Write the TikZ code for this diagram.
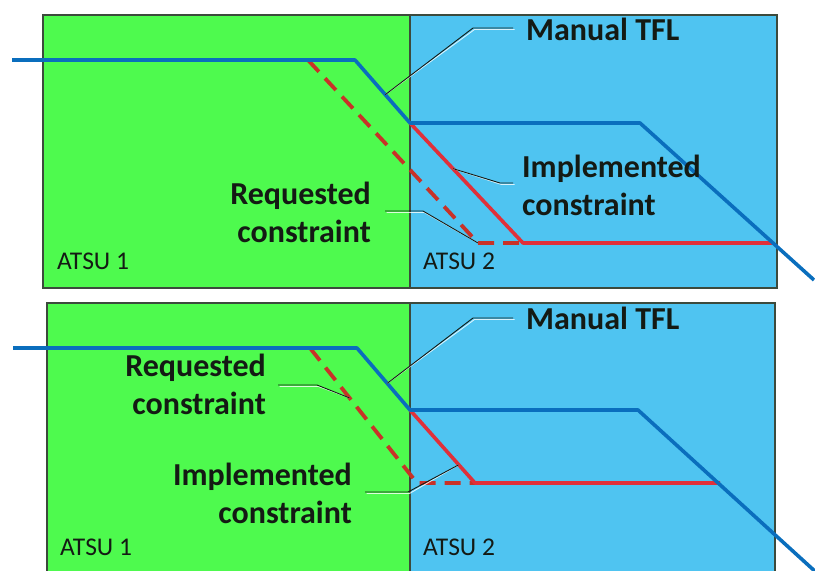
\documentclass[tikz,border=0pt]{standalone}
\usepackage{fontspec}
\setmainfont{Carlito}
\usetikzlibrary{calc}
\definecolor{zoneA}{HTML}{4EFA4E}
\definecolor{zoneB}{HTML}{4FC4F1}
\definecolor{tflblue}{HTML}{0A6EBD}
\definecolor{cred}{HTML}{E0303A}
\definecolor{cdred}{HTML}{C83228}
\definecolor{edge}{HTML}{3C4A3C}
\definecolor{ink}{HTML}{141A14}
\tikzset{
  x=1pt, y=-1pt,
  zonebox/.style={draw=edge, line width=1.3pt},
  tfl/.style={draw=tflblue, line width=3.6pt, line join=round},
  implemented/.style={draw=cred, line width=3.6pt, line join=round},
  requested/.style={draw=cdred, line width=3.8pt, dash pattern=on 16pt off 9pt},
  leader/.style={draw=ink, line width=0.9pt},
  leadershade/.style={draw=white, line width=0.9pt, opacity=0.8},
  biglabel/.style={font=\fontsize{32}{38}\selectfont\bfseries, text=ink, inner sep=0pt},
  zonelabel/.style={font=\fontsize{25.5}{28}\selectfont, text=ink, inner sep=0pt, anchor=west},
}
\begin{document}
\begin{tikzpicture}
\useasboundingbox (0,0) rectangle (815,571);
\clip (0,0) rectangle (815,571);

% ---------- upper scenario ----------
\fill[zoneA] (43,15) rectangle (410,288);
\fill[zoneB] (410,15) rectangle (777,288);
\draw[zonebox] (43,15) rectangle (777,288);
\draw[zonebox] (410,15) -- (410,288);

\coordinate (ta0) at (12,60);
\coordinate (ta1) at (355,60);
\coordinate (ta2) at (410,123);
\coordinate (ta3) at (640,123);
\coordinate (ta4) at (814,280);
\coordinate (ra0) at (308,60);
\coordinate (ra1) at (478,243);
\coordinate (ia0) at (410,123);
\coordinate (ia1) at (523,243);
\coordinate (ia2) at (773,243);

\draw[requested] (ra0) -- (ra1) -- (ia1);
\draw[implemented] (ia0) -- (ia1) -- (ia2);
\draw[tfl] (ta0) -- (ta1) -- (ta2) -- (ta3) -- (ta4);

\node[biglabel, anchor=west] (tflA) at (526,29) {Manual TFL};
\node[biglabel, anchor=west, align=left] (impA) at (522,185) {Implemented\\constraint};
\node[biglabel, anchor=east, align=right] (reqA) at (371,212) {Requested\\constraint};
\node[zonelabel] (atsuAa) at (57,261) {ATSU 1};
\node[zonelabel] (atsuAb) at (423,261) {ATSU 2};

\coordinate (lta) at ($(ta1)!0.55!(ta2)$);
\coordinate (lia) at ($(ia0)!0.38!(ia1)$);
\begin{scope}[shift={(1.5,1.5)}]
  \draw[leadershade] (lta) -- (473,28) -- (513,28);
  \draw[leadershade] (lia) -- (500,183) -- (513,183);
  \draw[leadershade] (385,211) -- (423,211) -- (ra1);
\end{scope}
\draw[leader] (lta) -- (473,28) -- (513,28);
\draw[leader] (lia) -- (500,183) -- (513,183);
\draw[leader] (385,211) -- (423,211) -- (ra1);

% ---------- lower scenario ----------
\fill[zoneA] (47,303) rectangle (410,580);
\fill[zoneB] (410,303) rectangle (775,580);
\draw[zonebox] (47,303) rectangle (775,580);
\draw[zonebox] (410,303) -- (410,580);

\coordinate (tb0) at (13,348);
\coordinate (tb1) at (357,348);
\coordinate (tb2) at (410,410);
\coordinate (tb3) at (638,410);
\coordinate (tb4) at (818,574);
\coordinate (rb0) at (310,348);
\coordinate (rb1) at (417,483);
\coordinate (ib0) at (410,410);
\coordinate (ib1) at (475,483);
\coordinate (ib2) at (720,483);

\draw[requested] (rb0) -- (rb1) -- (ib1);
\draw[implemented] (ib0) -- (ib1) -- (ib2);
\draw[tfl] (tb0) -- (tb1) -- (tb2) -- (tb3) -- (tb4);

\node[biglabel, anchor=west] (tflB) at (526,318) {Manual TFL};
\node[biglabel, anchor=east, align=right] (reqB) at (266,384) {Requested\\constraint};
\node[biglabel, anchor=east, align=right] (impB) at (352,493) {Implemented\\constraint};
\node[zonelabel] (atsuBa) at (60,547) {ATSU 1};
\node[zonelabel] (atsuBb) at (423,547) {ATSU 2};

\coordinate (ltb) at ($(tb1)!0.57!(tb2)$);
\coordinate (lrb) at ($(rb0)!0.37!(rb1)$);
\coordinate (lib) at ($(ib0)!0.75!(ib1)$);
\begin{scope}[shift={(1.5,1.5)}]
  \draw[leadershade] (ltb) -- (473,318) -- (513,318);
  \draw[leadershade] (278,385) -- (317,385) -- (lrb);
  \draw[leadershade] (365,492) -- (408,492) -- (lib);
\end{scope}
\draw[leader] (ltb) -- (473,318) -- (513,318);
\draw[leader] (278,385) -- (317,385) -- (lrb);
\draw[leader] (365,492) -- (408,492) -- (lib);
\end{tikzpicture}
\end{document}
